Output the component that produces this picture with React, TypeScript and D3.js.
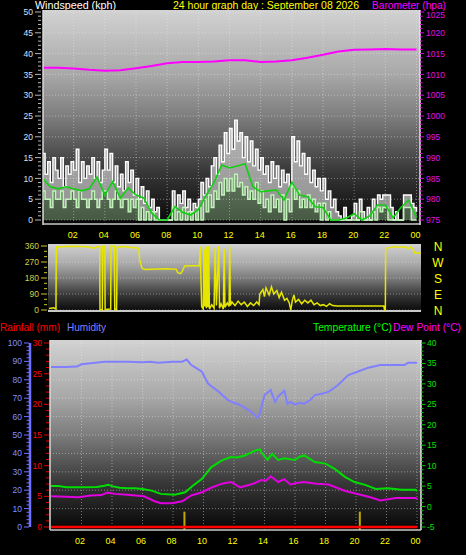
import React from "react";
import * as d3 from "d3";

// ---------- DATA ----------
const hourTicks = [2, 4, 6, 8, 10, 12, 14, 16, 18, 20, 22, 24];
const hourLabels = ["02", "04", "06", "08", "10", "12", "14", "16", "18", "20", "22", "00"];

// wind gust (kph), every 10 minutes
const gustKph = [
  16, 11, 14, 9, 15, 12,
  10, 15, 8, 13, 11, 14,
  12, 17, 9, 14, 10, 13,
  11, 15, 10, 14, 9, 12,
  17, 12, 16, 9, 13, 8,
  11, 7, 14, 9, 12, 6,
  10, 5, 8, 4, 7, 3,
  5, 2, 3, 0, 0, 0,
  0, 0, 7, 3, 6, 4,
  7, 3, 5, 2, 4, 3,
  5, 9, 6, 10, 8, 13,
  15, 11, 18, 14, 21, 16,
  22, 17, 24, 19, 21, 15,
  20, 14, 19, 13, 17, 12,
  15, 11, 13, 9, 14, 10,
  13, 8, 12, 9, 11, 8,
  20, 14, 19, 13, 16, 11,
  15, 9, 12, 8, 10, 7,
  10, 5, 7, 3, 5, 2,
  1, 0, 3, 0, 0, 1,
  4, 0, 5, 2, 0, 3,
  0, 5, 3, 6, 5, 6,
  6, 6, 3, 0, 2, 0,
  0, 6, 6, 6, 4, 3,
  2,
];
// average wind speed (kph), every 10 minutes
const avgKph = [
  7, 5, 5, 3, 7, 5,
  5, 7, 3, 5, 5, 7,
  5, 3, 7, 5, 5, 3,
  5, 7, 5, 3, 5, 7,
  7, 5, 3, 5, 7, 5,
  3, 5, 5, 2, 5, 3,
  5, 0, 3, 0, 2, 0,
  2, 0, 0, 0, 0, 0,
  0, 0, 3, 0, 2, 0,
  3, 0, 2, 0, 2, 0,
  3, 0, 5, 2, 6, 3,
  7, 5, 9, 6, 10, 7,
  10, 7, 11, 8, 9, 6,
  8, 5, 7, 5, 9, 4,
  7, 3, 5, 2, 6, 3,
  5, 2, 6, 0, 5, 2,
  8, 5, 7, 3, 5, 3,
  6, 3, 5, 2, 4, 0,
  4, 0, 2, 0, 0, 0,
  0, 0, 0, 0, 0, 0,
  0, 0, 2, 0, 0, 0,
  0, 2, 0, 3, 2, 3,
  3, 0, 0, 0, 0, 0,
  0, 3, 3, 3, 0, 0,
  0,
];
// smoothed wind (kph), every 30 minutes
const trendKph = [
  10, 8, 7.5, 8, 7.5, 7, 7.5, 10.3, 6, 9.2, 5.3, 7.7, 6, 5.3, 1.7, 0,
  0, 3.2, 1.8, 1.2, 2.5, 6, 9, 13.2, 12.5, 13, 13.5, 8, 6.8, 7, 7.2, 4.8,
  9.1, 6, 5.6, 3.2, 3, 0, 0, 0.5, 1.5, 0, 1, 3.6, 3.6, 0.5, 3, 4.8, 0.5,
];
// barometer (hpa), hourly
const baroHpa = [
  1011.6, 1011.6, 1011.4, 1011.1, 1010.9, 1011.0, 1011.5, 1012.0, 1012.7,
  1013.0, 1013.0, 1013.1, 1013.4, 1013.4, 1013.0, 1013.1, 1013.4, 1014.0,
  1014.7, 1015.5, 1015.9, 1016.0, 1016.1, 1016.0, 1016.0,
];

// wind direction (degrees)
const dirHours = [
  0, 0.3, 0.45, 0.47, 1.5, 2.5, 2.9, 3.1, 3.27, 3.29, 3.44, 3.46, 3.6, 3.62, 3.98, 4.0,
  4.22, 4.24, 4.36, 4.4, 4.8, 5.4, 5.7, 5.8, 5.85, 6.0, 6.2, 7.5, 8.2, 8.3, 8.5, 8.6,
  8.75, 9.7, 9.75, 9.85, 9.95, 10.0, 10.05, 10.1, 10.15, 10.2, 10.25, 10.3, 10.35, 10.5,
  10.65, 10.72, 10.8, 10.95, 11.0, 11.1, 11.25, 11.3, 11.35, 11.5, 11.62, 11.66, 11.7,
  11.8, 12.0, 12.2, 12.4, 12.6, 12.8, 13.0, 13.2, 13.4, 13.55, 13.6, 13.8, 13.9, 14.0,
  14.2, 14.35, 14.5, 14.7, 14.85, 15.0, 15.2, 15.35, 15.5, 15.6, 15.7, 15.8, 15.9, 16.1,
  16.3, 16.5, 16.7, 16.9, 17.1, 17.3, 17.5, 17.7, 17.9, 18.1, 18.3, 18.6, 21.6, 21.65,
  21.7, 21.72, 21.8, 22.2, 23.0, 23.2, 23.35, 23.5, 23.6, 24,
];
const dirDeg = [
  8, 12, 5, 355, 358, 356, 348, 356, 357, 2, 2, 358, 358, 3, 5, 358,
  358, 2, 4, 355, 357, 350, 352, 340, 280, 235, 228, 232, 230, 210, 205, 218,
  248, 250, 355, 20, 5, 340, 20, 360, 10, 355, 15, 360, 5, 30,
  10, 350, 25, 358, 10, 35, 5, 345, 15, 40, 20, 358, 25,
  45, 25, 50, 30, 45, 20, 40, 25, 45, 30, 90, 115, 75, 125,
  85, 130, 90, 110, 70, 100, 55, 65, 40, 0, 55, 85, 45, 60,
  35, 55, 40, 55, 30, 40, 25, 30, 20, 35, 25, 22, 22, 0,
  0, 345, 348, 355, 355, 345, 355, 340, 320, 320,
];

// humidity (%)
const humHours = [
  0, 0.5, 1, 1.7, 2, 2.6, 3.5, 5, 6, 6.5, 7, 8, 8.6, 8.9, 9.2, 9.5, 9.9, 10.1, 10.3,
  10.6, 11, 11.6, 12, 12.4, 13.1, 13.4, 13.5, 13.6, 13.7, 13.85, 14, 14.2, 14.4, 14.55,
  14.7, 14.9, 15.1, 15.3, 15.5, 15.7, 16, 16.3, 16.6, 17, 17.3, 17.8, 18.2, 18.8, 19.5,
  20.1, 20.8, 21.6, 23.2, 23.4, 24,
];
const humPct = [
  87, 87, 87, 87.2, 88.4, 89, 89.8, 89.8, 89.5, 89.8, 89.3, 89.8, 89.8, 91, 88, 86.5,
  84.4, 81, 78, 76, 73.5, 69, 67.5, 66.3, 62.7, 60.5, 59.5, 60, 62, 67, 71.7, 73, 74.5,
  71, 68, 71, 72.6, 74, 67, 68, 66.5, 67.5, 67, 69, 71.7, 72.5, 73.5, 77, 82.6, 84.4,
  86.6, 88, 88, 89.3, 89.3,
];
// temperature (°C)
const tempHours = [
  0, 0.5, 1, 2, 3, 3.5, 3.75, 4, 4.5, 5, 5.5, 6, 6.6, 7.2, 8.1, 8.8, 9.3, 9.9, 10.5,
  11.2, 11.8, 12.2, 12.7, 13.0, 13.4, 13.7, 13.8, 14.2, 14.5, 14.9, 15.3, 16, 16.3,
  16.6, 17.3, 18, 18.6, 19.3, 19.9, 20.6, 21.3, 22.1, 23, 23.9, 24,
];
const tempC = [
  5.0, 5.0, 4.7, 4.7, 4.8, 5.1, 5.3, 5.0, 4.6, 4.5, 4.5, 4.3, 3.9, 3.1, 2.9, 3.5, 5.1,
  6.8, 9.6, 11.3, 12.1, 12.0, 12.5, 13.0, 13.7, 14.0, 13.2, 11.4, 12.9, 11.4, 11.8,
  11.4, 12.2, 12.5, 10.9, 10.5, 9.2, 7.2, 6.0, 5.3, 4.3, 4.5, 4.1, 4.1, 3.8,
];
// dew point (°C)
const dewHours = [
  0, 1, 1.8, 2.6, 3.3, 3.7, 4.2, 5, 6.1, 6.8, 7.2, 7.9, 8.6, 9.2, 9.9, 10.5, 11.2,
  11.8, 12, 12.4, 12.8, 13.2, 13.8, 14.1, 14.4, 14.9, 15.3, 15.7, 16.2, 16.6, 17.4,
  18.2, 19.3, 20.3, 21, 21.6, 22.6, 23.3, 23.9, 24,
];
const dewC = [
  2.5, 2.4, 2.3, 2.7, 2.8, 3.4, 3.1, 2.9, 2.5, 1.3, 0.8, 0.8, 1.3, 2.7, 3.5, 4.6, 5.6,
  6.0, 5.6, 4.7, 5.1, 5.5, 6.5, 6.3, 7.4, 6.0, 6.7, 5.4, 5.8, 6.0, 5.6, 5.4, 3.8, 2.9,
  2.2, 1.5, 2.1, 2.1, 2.1, 1.8,
];
// rainfall (mm)
const rainHours = [0, 24];
const rainMm = [0, 0];
const rainRateHours = [8.75, 20.25];
const rainRate = [2.5, 2.5];

const dirLetters = ["N", "W", "S", "E", "N"];
const dirLetterDeg = [360, 270, 180, 90, 0];

// ---------- COMPONENT ----------
const FONT = "'Liberation Sans', Arial, sans-serif";

function Grad({ id }: { id: string }) {
  return (
    <linearGradient id={id} x1="0" y1="0" x2="0" y2="1">
      <stop offset="0" stopColor="#d2d2d2" />
      <stop offset="0.3" stopColor="#a8a8a8" />
      <stop offset="0.5" stopColor="#7c7c7c" />
      <stop offset="0.75" stopColor="#383838" />
      <stop offset="1" stopColor="#060606" />
    </linearGradient>
  );
}

export default function App() {
  const W = 466;
  const H = 555;

  // panel 1
  const p1 = { l: 43, r: 420, t: 10, b: 225 };
  const x1 = d3.scaleLinear().domain([0, 24]).range([42.5, 416.5]);
  const yW = d3.scaleLinear().domain([0, 50]).range([220, 12]);
  const yB = d3.scaleLinear().domain([975, 1025]).range([220, 12]);

  // panel 2
  const p2 = { l: 48, r: 421, t: 244, b: 312 };
  const x2 = d3.scaleLinear().domain([0, 24]).range([49, 421]);
  const yD = d3.scaleLinear().domain([0, 360]).range([310, 246]);

  // panel 3
  const p3 = { l: 50, r: 421, t: 340, b: 530 };
  const x3 = d3.scaleLinear().domain([0, 24]).range([51, 417]);
  const yH = d3.scaleLinear().domain([0, 100]).range([527, 343]);
  const yR = d3.scaleLinear().domain([0, 30]).range([527, 343]);
  const yT = d3.scaleLinear().domain([-5, 40]).range([527, 343]);

  const stepLine = (arr: number[], perHour: number, ys: d3.ScaleLinear<number, number>) =>
    d3
      .line<number>()
      .x((_, i) => x1(i / perHour))
      .y((d) => ys(d))
      .curve(d3.curveStepAfter)(arr) || "";
  const linLine = (arr: number[], perHour: number, ys: d3.ScaleLinear<number, number>) =>
    d3
      .line<number>()
      .x((_, i) => x1(i / perHour))
      .y((d) => ys(d))(arr) || "";
  const gustBand =
    d3
      .area<number>()
      .x((_, i) => x1(i / 6))
      .y0((_, i) => yW(Math.min(avgKph[i], gustKph[i])))
      .y1((d) => yW(d))
      .curve(d3.curveStepAfter)(gustKph) || "";
  const avgBand =
    d3
      .area<number>()
      .x((_, i) => x1(i / 6))
      .y0(() => yW(0))
      .y1((d) => yW(d))
      .curve(d3.curveStepAfter)(avgKph) || "";
  const pairLine = (
    hs: number[],
    vs: number[],
    xs: d3.ScaleLinear<number, number>,
    ys: d3.ScaleLinear<number, number>
  ) =>
    d3
      .line<number>()
      .x((_, i) => xs(hs[i]))
      .y((d) => ys(d))(vs) || "";

  const grid = "rgba(235,235,235,0.45)";

  return (
    <svg
      width={W}
      height={H}
      style={{ position: "absolute", left: 0, top: 0, display: "block", background: "#000" }}
      fontFamily={FONT}
    >
      <defs>
        <Grad id="g1" />
        <Grad id="g2" />
        <Grad id="g3" />
        <clipPath id="c1">
          <rect x={p1.l} y={p1.t} width={p1.r - p1.l} height={p1.b - p1.t} />
        </clipPath>
        <clipPath id="c2">
          <rect x={p2.l} y={p2.t} width={p2.r - p2.l} height={p2.b - p2.t} />
        </clipPath>
        <clipPath id="c3">
          <rect x={p3.l} y={p3.t} width={p3.r - p3.l} height={p3.b - p3.t} />
        </clipPath>
      </defs>
      <rect x={0} y={0} width={W} height={H} fill="#000" />

      {/* ===== PANEL 1 ===== */}
      <text x={35} y={8.8} fill="#ffffff" fontSize={11} textLength={81} lengthAdjust="spacingAndGlyphs">
        Windspeed (kph)
      </text>
      <text x={173} y={8.8} fill="#ffff00" fontSize={11} textLength={186} lengthAdjust="spacingAndGlyphs">
        24 hour graph day : September 08 2026
      </text>
      <text x={372} y={8.8} fill="#ff00ff" fontSize={10.5} textLength={74} lengthAdjust="spacingAndGlyphs">
        Barometer (hpa)
      </text>
      <rect x={p1.l} y={p1.t} width={p1.r - p1.l} height={p1.b - p1.t} fill="url(#g1)" />
      {d3.range(0, 51, 5).map((v) => (
        <line key={"h1" + v} x1={p1.l} x2={p1.r} y1={yW(v)} y2={yW(v)} stroke={grid} strokeDasharray="1 2" />
      ))}
      {hourTicks.map((h) => (
        <line key={"v1" + h} x1={x1(h)} x2={x1(h)} y1={p1.t} y2={p1.b} stroke={grid} strokeDasharray="1 2" />
      ))}
      <g clipPath="url(#c1)">
        <path d={gustBand} fill="#e8e8e8" fillOpacity={0.6} stroke="none" />
        <path d={stepLine(gustKph, 6, yW)} fill="none" stroke="#ffffff" strokeWidth={1.4} />
        <path d={avgBand} fill="#b8f0b0" fillOpacity={0.35} stroke="none" />
        <path d={stepLine(avgKph, 6, yW)} fill="none" stroke="#c0f4b8" strokeWidth={1.5} />
        <path d={linLine(trendKph, 2, yW)} fill="none" stroke="#10d010" strokeWidth={1.6} />
        <path d={linLine(baroHpa, 1, yB)} fill="none" stroke="#ff00ff" strokeWidth={2} />
      </g>
      <line x1={p1.l} x2={p1.l} y1={p1.t} y2={p1.b} stroke="#d8d8d8" strokeWidth={1.5} />
      <line x1={p1.r} x2={p1.r} y1={p1.t} y2={p1.b} stroke="#e8e8e8" strokeWidth={1.5} />
      <line x1={p1.l} x2={p1.r} y1={p1.b - 1} y2={p1.b - 1} stroke="#c8c8c8" strokeWidth={1.5} />
      {/* left axis */}
      {d3.range(0, 51, 1).map((v) => (
        <line
          key={"lt" + v}
          x1={v % 5 === 0 ? 35 : 38}
          x2={41}
          y1={yW(v)}
          y2={yW(v)}
          stroke="#b8b8b8"
          strokeWidth={1}
        />
      ))}
      {d3.range(0, 51, 5).map((v) => (
        <text key={"ll" + v} x={33} y={yW(v)} dy="0.38em" fill="#d0e0ff" fontSize={8.5} textAnchor="end">
          {v}
        </text>
      ))}
      {/* right axis */}
      {d3.range(975, 1026, 1).map((v) => (
        <line
          key={"rt" + v}
          x1={p1.r}
          x2={v % 5 === 0 ? p1.r + 4 : p1.r + 2.5}
          y1={yB(v)}
          y2={yB(v)}
          stroke="#e000e0"
          strokeWidth={1}
        />
      ))}
      {d3.range(975, 1026, 5).map((v) => (
        <text key={"rl" + v} x={426} y={yB(v) + (v === 1025 ? 2.5 : 0)} dy="0.38em" fill="#e010e0" fontSize={8.5}>
          {v}
        </text>
      ))}
      {hourTicks.map((h, i) => (
        <text key={"xl1" + h} x={x1(h) - 1} y={238} fill="#ffff00" fontSize={9} textAnchor="middle">
          {hourLabels[i]}
        </text>
      ))}

      {/* ===== PANEL 2 ===== */}
      <rect x={p2.l} y={p2.t} width={p2.r - p2.l} height={p2.b - p2.t} fill="url(#g2)" />
      {d3.range(0, 361, 90).map((v) => (
        <line key={"h2" + v} x1={p2.l} x2={p2.r} y1={yD(v)} y2={yD(v)} stroke={grid} strokeDasharray="1 2" />
      ))}
      <line x1={p2.l} x2={p2.r} y1={p2.b - 1} y2={p2.b - 1} stroke="#c8c8c8" strokeWidth={2} />
      <g clipPath="url(#c2)">
        <path d={pairLine(dirHours, dirDeg, x2, yD)} fill="none" stroke="#e6e600" strokeWidth={1.5} />
      </g>
      {d3.range(0, 361, 30).map((v) => (
        <line
          key={"dt" + v}
          x1={v % 90 === 0 ? 41 : 44}
          x2={47}
          y1={yD(v)}
          y2={yD(v)}
          stroke="#c8c830"
          strokeWidth={1}
        />
      ))}
      {d3.range(0, 361, 90).map((v) => (
        <text key={"dl" + v} x={39} y={yD(v)} dy="0.35em" fill="#d0d040" fontSize={8.5} textAnchor="end">
          {v}
        </text>
      ))}
      {dirLetters.map((t, i) => (
        <text key={"dir" + i} x={438} y={yD(dirLetterDeg[i])} dy="0.38em" fill="#ffff00" fontSize={12} textAnchor="middle">
          {t}
        </text>
      ))}

      {/* ===== PANEL 3 ===== */}
      <text x={0} y={331} fill="#ff0000" fontSize={11} textLength={60} lengthAdjust="spacingAndGlyphs">
        Rainfall (mm)
      </text>
      <text x={67} y={331} fill="#8080ff" fontSize={11} textLength={39} lengthAdjust="spacingAndGlyphs">
        Humidity
      </text>
      <text x={313} y={331} fill="#00ff00" fontSize={11} textLength={79} lengthAdjust="spacingAndGlyphs">
        Temperature (°C)
      </text>
      <text x={393} y={331} fill="#ff00ff" fontSize={11} textLength={68} lengthAdjust="spacingAndGlyphs">
        Dew Point (°C)
      </text>
      <rect x={p3.l} y={p3.t} width={p3.r - p3.l} height={p3.b - p3.t} fill="url(#g3)" />
      {d3.range(10, 101, 10).map((v) => (
        <line key={"h3" + v} x1={p3.l} x2={p3.r} y1={yH(v)} y2={yH(v)} stroke={grid} strokeDasharray="1 2" />
      ))}
      {hourTicks.map((h) => (
        <line key={"v3" + h} x1={x3(h)} x2={x3(h)} y1={p3.t} y2={p3.b} stroke={grid} strokeDasharray="1 2" />
      ))}
      <g clipPath="url(#c3)">
        {rainRateHours.map((h, i) => (
          <rect
            key={"rr" + i}
            x={x3(h) - 1}
            y={yR(rainRate[i])}
            width={2}
            height={p3.b - yR(rainRate[i])}
            fill="#c0a800"
          />
        ))}
        <path d={pairLine(humHours, humPct, x3, yH)} fill="none" stroke="#8080ff" strokeWidth={2} />
        <path d={pairLine(tempHours, tempC, x3, yT)} fill="none" stroke="#00dd00" strokeWidth={2} />
        <path d={pairLine(dewHours, dewC, x3, yT)} fill="none" stroke="#e000e0" strokeWidth={2} />
        <path d={pairLine(rainHours, rainMm, x3, yR)} fill="none" stroke="#ff0000" strokeWidth={2.5} />
      </g>
      <line x1={p3.l} x2={p3.l} y1={p3.t} y2={p3.b} stroke="#d8d8d8" strokeWidth={1.5} />
      <line x1={p3.r} x2={p3.r} y1={p3.t} y2={p3.b} stroke="#e8e8e8" strokeWidth={1.5} />
      <line x1={p3.l} x2={p3.r} y1={p3.b} y2={p3.b} stroke="#c8c8c8" strokeWidth={1.5} />
      {/* humidity axis */}
      <line x1={30} x2={30} y1={yH(100)} y2={yH(0)} stroke="#7070ff" strokeWidth={2.5} />
      {d3.range(0, 101, 2).map((v) => (
        <line
          key={"ht" + v}
          x1={v % 10 === 0 ? 24 : 26.5}
          x2={29}
          y1={yH(v)}
          y2={yH(v)}
          stroke="#7070ff"
          strokeWidth={1}
        />
      ))}
      {d3.range(0, 101, 10).map((v) => (
        <text key={"hl" + v} x={22} y={yH(v)} dy="0.35em" fill="#8090ff" fontSize={8.5} textAnchor="end">
          {v}
        </text>
      ))}
      {/* rain axis */}
      {d3.range(0, 31, 1).map((v) => (
        <line
          key={"rt3" + v}
          x1={v % 5 === 0 ? 44 : 46}
          x2={49}
          y1={yR(v)}
          y2={yR(v)}
          stroke="#e00000"
          strokeWidth={1}
        />
      ))}
      {d3.range(0, 31, 5).map((v) => (
        <text key={"rl3" + v} x={42} y={yR(v)} dy="0.35em" fill="#ff0000" fontSize={8.5} textAnchor="end">
          {v}
        </text>
      ))}
      {/* temperature axis */}
      {d3.range(-5, 41, 1).map((v) => (
        <line
          key={"tt" + v}
          x1={p3.r}
          x2={v % 5 === 0 ? p3.r + 4.5 : p3.r + 2.5}
          y1={yT(v)}
          y2={yT(v)}
          stroke="#00d000"
          strokeWidth={1}
        />
      ))}
      {d3.range(-5, 41, 5).map((v) => (
        <text key={"tl" + v} x={427} y={yT(v)} dy="0.35em" fill="#00e000" fontSize={8.5}>
          {v}
        </text>
      ))}
      {hourTicks.map((h, i) => (
        <text key={"xl3" + h} x={x3(h) - 1.5} y={544} fill="#ffff00" fontSize={9} textAnchor="middle">
          {hourLabels[i]}
        </text>
      ))}
    </svg>
  );
}
